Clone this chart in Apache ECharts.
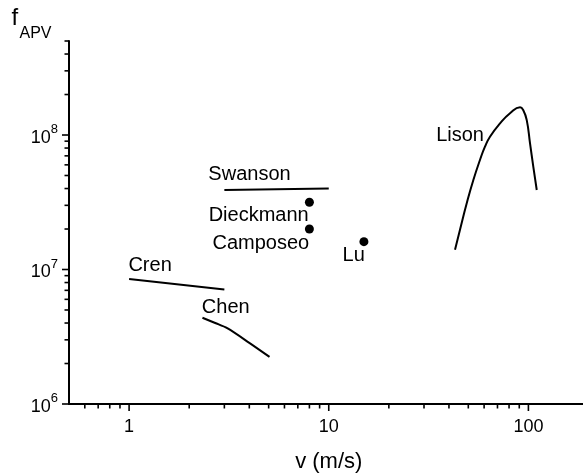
<!DOCTYPE html>
<html>
<head>
<meta charset="utf-8">
<script src="https://cdn.jsdelivr.net/npm/echarts@6/dist/echarts.min.js"></script>
<style>
html,body{margin:0;padding:0;background:#fff;}
#chart{width:583px;height:474px;}
</style>
</head>
<body>
<div id="chart"></div>
<script>
// ---------- data ----------
const swansonV = [3, 10];
const swansonF = [3.9e7, 4.0e7];

const crenV = [1, 3];
const crenF = [8.5e6, 7.1e6];

const chenV = [2.33, 2.7, 3.1, 4, 5.05];
const chenF = [4.38e6, 4.0e6, 3.66e6, 2.85e6, 2.24e6];

const lisonV = [42.9, 45.4, 49.1, 53.0, 57.2, 60.6, 64.2, 72.1, 80.9, 90.8, 94.3, 98.1, 101.9, 105.8, 110.1];
const lisonF = [1.40e7, 1.97e7, 3.11e7, 4.63e7, 6.52e7, 8.19e7, 9.71e7, 1.22e8, 1.45e8, 1.61e8, 1.53e8, 1.29e8, 8.68e7, 5.81e7, 3.90e7];

const pointNames = ['Dieckmann', 'Camposeo', 'Lu'];
const pointV = [8, 8, 15];
const pointF = [3.16e7, 2.0e7, 1.61e7];

// axis ranges and ticks
const xRange = [0.5, 200];
const yRange = [1e6, 5e8];
const xMajorTicks = [1, 10, 100];
const xTickLabels = ['1', '10', '100'];
const xMinorTicks = [0.6, 0.7, 0.8, 0.9, 2, 3, 4, 5, 6, 7, 8, 9, 20, 30, 40, 50, 60, 70, 80, 90, 200];
const yMajorTicks = [1e6, 1e7, 1e8];
const yTickExponents = ['6', '7', '8'];
const yMinorTicks = [2e6, 3e6, 4e6, 5e6, 6e6, 7e6, 8e6, 9e6, 2e7, 3e7, 4e7, 5e7, 6e7, 7e7, 8e7, 9e7, 2e8, 3e8, 4e8, 5e8];

// ---------- annotation texts, anchored on data points ----------
const annotations = [
  { text: 'Swanson',   v: swansonV[0], f: swansonF[0] },
  { text: 'Cren',      v: crenV[0],    f: crenF[0] },
  { text: 'Chen',      v: chenV[0],    f: chenF[0] },
  { text: 'Lison',     v: lisonV[6],   f: lisonF[6] },
  { text: pointNames[0], v: pointV[0], f: pointF[0] },
  { text: pointNames[1], v: pointV[1], f: pointF[1] },
  { text: pointNames[2], v: pointV[2], f: pointF[2] }
];
// pixel offsets / alignment (style only)
const annotationStyle = {
  'Swanson':   { dx: -16, dy: -16,  align: 'left' },
  'Cren':      { dx: -0.7, dy: -13.5, align: 'left' },
  'Chen':      { dx: -0.6, dy: -10, align: 'left' },
  'Lison':     { dx: -6,  dy: -1.7, align: 'right' },
  'Dieckmann': { dx: -0.7, dy: 13,  align: 'right' },
  'Camposeo':  { dx: -0.2, dy: 14,  align: 'right' },
  'Lu':        { dx: 0.9, dy: 13.8, align: 'right' }
};

const FONT = '"Liberation Sans", Arial, Helvetica, sans-serif';
const zip = (a, b) => a.map((v, i) => [v, b[i]]);

const chart = echarts.init(document.getElementById('chart'), null, { renderer: 'canvas' });

const lineStyleBase = { color: '#000', width: 2 };
function curve(name, v, f, smooth) {
  return {
    name: name, type: 'line', data: zip(v, f),
    showSymbol: false, symbol: 'none', smooth: smooth || false,
    lineStyle: lineStyleBase, itemStyle: { color: '#000' }, z: 3
  };
}

function tickSeries(values, isX) {
  return {
    type: 'custom', silent: true, clip: false, z: 5,
    data: values.map(v => isX ? [v, yRange[0]] : [xRange[0], v]),
    encode: { x: 0, y: 1 },
    renderItem: function (params, api) {
      const v = isX ? api.value(0) : api.value(1);
      const lg = Math.log10(v);
      const major = Math.abs(lg - Math.round(lg)) < 1e-9;
      const len = major ? 7 : 4.5;
      const p = api.coord([api.value(0), api.value(1)]);
      const shape = isX
        ? { x1: p[0], y1: p[1], x2: p[0], y2: p[1] + len }
        : { x1: p[0] - len, y1: p[1], x2: p[0], y2: p[1] };
      return { type: 'line', shape: shape, style: { stroke: '#000', lineWidth: 1.6 } };
    }
  };
}

const option = {
  animation: false,
  backgroundColor: '#fff',
  grid: { left: 69, top: 41, width: 519.5, height: 363, containLabel: false, outerBoundsMode: 'none' },
  xAxis: {
    type: 'log', logBase: 10, min: xRange[0], max: xRange[1],
    name: 'v (m/s)', nameLocation: 'middle', nameGap: 47,
    nameTextStyle: { fontSize: 22, color: '#000', fontFamily: FONT },
    axisLine: { lineStyle: { color: '#000', width: 2 } },
    axisTick: { show: false },
    minorTick: { show: false },
    splitLine: { show: false },
    axisLabel: {
      margin: 14, fontSize: 18, color: '#000', fontFamily: FONT,
      showMinLabel: true, showMaxLabel: true,
      formatter: function (val) {
        for (let i = 0; i < xMajorTicks.length; i++) {
          if (Math.abs(Math.log10(val) - Math.log10(xMajorTicks[i])) < 1e-6) return xTickLabels[i];
        }
        return '';
      }
    }
  },
  yAxis: {
    type: 'log', logBase: 10, min: yRange[0], max: yRange[1],
    axisLine: { lineStyle: { color: '#000', width: 2 } },
    axisTick: { show: false },
    minorTick: { show: false },
    splitLine: { show: false },
    axisLabel: {
      margin: 11, color: '#000', fontFamily: FONT,
      formatter: function (val) {
        for (let i = 0; i < yMajorTicks.length; i++) {
          if (Math.abs(Math.log10(val) - Math.log10(yMajorTicks[i])) < 1e-6) return '{b|10}{s|' + yTickExponents[i] + '}';
        }
        return '';
      },
      rich: {
        b: { fontSize: 18, lineHeight: 24, verticalAlign: 'bottom', color: '#000', fontFamily: FONT },
        s: { fontSize: 13, lineHeight: 11, verticalAlign: 'top', color: '#000', fontFamily: FONT }
      }
    }
  },
  graphic: [
    { type: 'text', left: 11.5, top: 6.5, style: { text: 'f', fontSize: 24, fill: '#000', fontFamily: FONT } },
    { type: 'text', left: 19.5, top: 26, style: { text: 'APV', fontSize: 16, fill: '#000', fontFamily: FONT } }
  ],
  series: [
    curve('Swanson', swansonV, swansonF),
    curve('Cren', crenV, crenF),
    curve('Chen', chenV, chenF, 0.3),
    curve('Lison', lisonV, lisonF, 0.5),
    {
      name: 'points', type: 'scatter', data: zip(pointV, pointF),
      symbol: 'circle', symbolSize: 9, itemStyle: { color: '#000', opacity: 1 }, z: 4
    },
    tickSeries(xMajorTicks.concat(xMinorTicks), true),
    tickSeries(yMajorTicks.concat(yMinorTicks), false),
    {
      type: 'custom', silent: true, clip: false, z: 6,
      data: annotations.map(a => [a.v, a.f]),
      encode: { x: 0, y: 1 },
      renderItem: function (params, api) {
        const a = annotations[params.dataIndex];
        const st = annotationStyle[a.text];
        const p = api.coord([api.value(0), api.value(1)]);
        return {
          type: 'text', x: p[0] + st.dx, y: p[1] + st.dy,
          style: { text: a.text, fill: '#000', fontSize: 20, fontFamily: FONT, align: st.align, verticalAlign: 'middle' }
        };
      }
    }
  ]
};

chart.setOption(option);
</script>
</body>
</html>
